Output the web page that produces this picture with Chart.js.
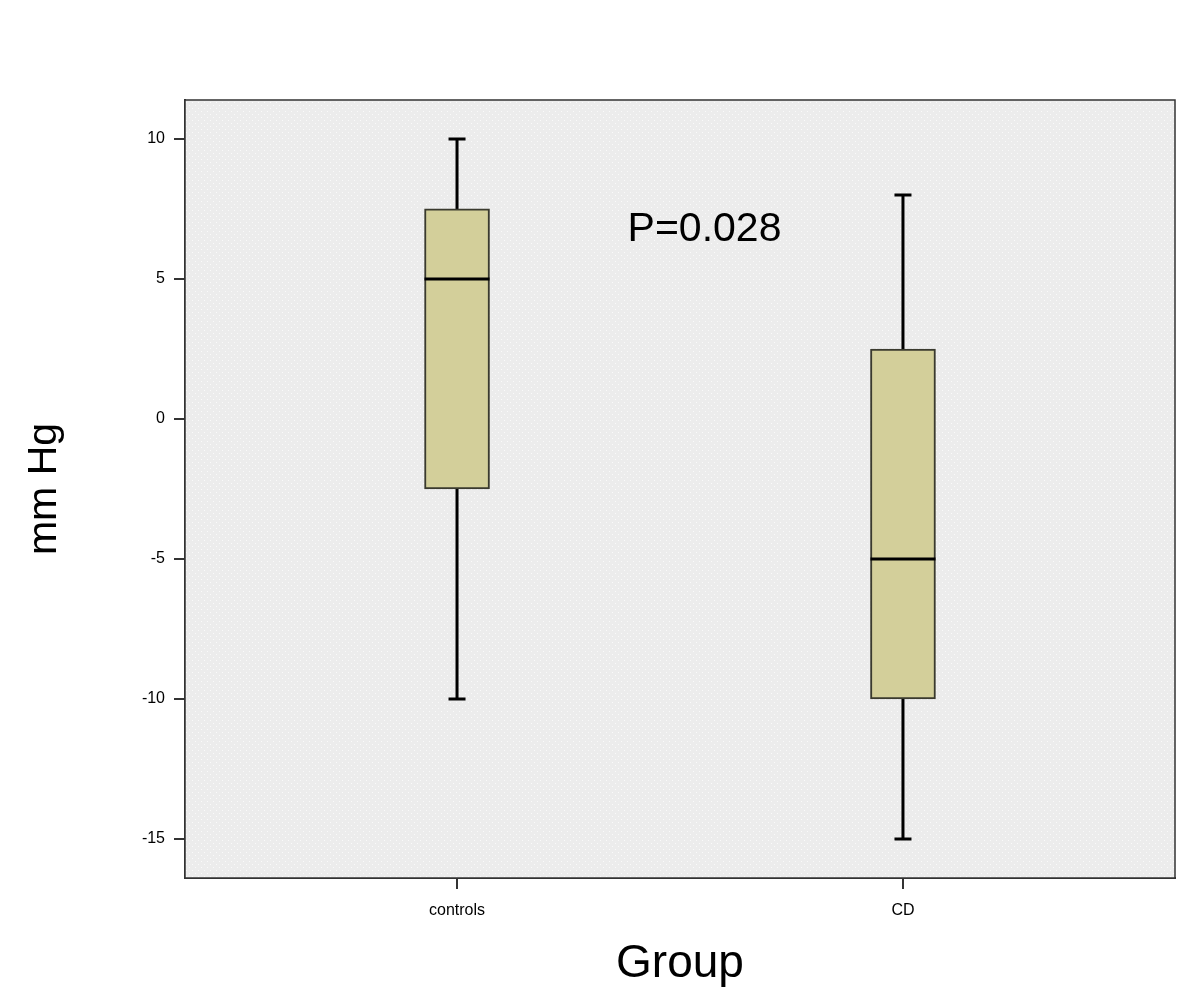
<!DOCTYPE html>
<html>
<head>
<meta charset="utf-8">
<script src="https://cdn.jsdelivr.net/npm/chart.js@4/dist/chart.umd.min.js"></script>
<style>
  html, body { margin: 0; padding: 0; background: #fff; }
  canvas { display: block; }
</style>
</head>
<body>
<canvas id="boxChart" width="1200" height="1000"></canvas>
<script>
/* Boxplot: mm Hg par groupe */

const categories  = ["controls", "CD"];
const whiskerLow  = [-10, -15];
const q1          = [-2.5, -10];
const medians     = [5, -5];
const q3          = [7.5, 2.5];
const whiskerHigh = [10, 8];
const yTicks      = [10, 5, 0, -5, -10, -15];
const pLabel      = "P=0.028";

const FONT = "Arial, 'Liberation Sans', sans-serif";

// motif gris pointillé du fond
function makeDotPattern(ctx) {
  const c = document.createElement("canvas");
  c.width = 6; c.height = 6;
  const p = c.getContext("2d");
  p.fillStyle = "#ececec";
  p.fillRect(0, 0, 6, 6);
  p.fillStyle = "#fafafa";
  p.fillRect(0, 0, 1, 1);
  p.fillRect(3, 3, 1, 1);
  return ctx.createPattern(c, "repeat");
}

const boxPlugin = {
  id: "boxExtras",
  beforeDatasetsDraw(chart) {
    const { ctx, chartArea: a } = chart;
    ctx.save();
    ctx.fillStyle = makeDotPattern(ctx);
    ctx.fillRect(a.left, a.top, a.right - a.left, a.bottom - a.top);
    ctx.restore();

    // moustaches (derrière les boîtes)
    const x = chart.scales.x, y = chart.scales.y;
    ctx.save();
    ctx.strokeStyle = "#000";
    ctx.lineWidth = 3;
    categories.forEach((_, i) => {
      const px = x.getPixelForValue(i + 1);
      ctx.beginPath();
      ctx.moveTo(px, y.getPixelForValue(whiskerLow[i]));
      ctx.lineTo(px, y.getPixelForValue(q1[i]));
      ctx.moveTo(px, y.getPixelForValue(q3[i]));
      ctx.lineTo(px, y.getPixelForValue(whiskerHigh[i]));
      // capuchons
      [whiskerLow[i], whiskerHigh[i]].forEach(v => {
        const py = y.getPixelForValue(v);
        ctx.moveTo(px - 8.5, py);
        ctx.lineTo(px + 8.5, py);
      });
      ctx.stroke();
    });
    ctx.restore();
  },
  afterDatasetsDraw(chart) {
    const { ctx, chartArea: a } = chart;
    const x = chart.scales.x, y = chart.scales.y;
    const meta = chart.getDatasetMeta(0);

    // médianes
    ctx.save();
    ctx.strokeStyle = "#000";
    ctx.lineWidth = 3;
    meta.data.forEach((bar, i) => {
      const half = bar.width / 2;
      const py = y.getPixelForValue(medians[i]);
      ctx.beginPath();
      ctx.moveTo(bar.x - half, py);
      ctx.lineTo(bar.x + half, py);
      ctx.stroke();
    });
    ctx.restore();

    // cadre
    ctx.save();
    ctx.strokeStyle = "#333";
    ctx.lineWidth = 1.5;
    ctx.strokeRect(a.left, a.top, a.right - a.left, a.bottom - a.top);
    ctx.restore();

    // valeur p
    ctx.save();
    ctx.font = "41px " + FONT;
    ctx.fillStyle = "#000";
    ctx.textAlign = "center";
    ctx.textBaseline = "middle";
    ctx.fillText(pLabel, x.getPixelForValue(1.555), y.getPixelForValue(6.75));
    ctx.restore();
  }
};

new Chart(document.getElementById("boxChart"), {
  type: "bar",
  data: {
    datasets: [{
      data: categories.map((c, i) => ({ x: i + 1, y: [q1[i], q3[i]] })),
      backgroundColor: "#d3cf9a",
      borderColor:     "#3a3a2e",
      borderWidth:     2,
      borderSkipped:   false,
      barThickness:    65
    }]
  },
  options: {
    responsive: false,
    animation: false,
    layout: { padding: { top: 100, right: 25, left: 0, bottom: 0 } },
    plugins: {
      legend:  { display: false },
      tooltip: { enabled: false }
    },
    scales: {
      x: {
        type: "linear",
        min: 0.39,
        max: 2.61,
        offset: false,
        afterBuildTicks: axis => { axis.ticks = categories.map((_, i) => ({ value: i + 1 })); },
        afterFit: axis => { axis.height = 122; },
        grid:   { offset: false, drawOnChartArea: false, drawTicks: true, tickLength: 11, color: "#333", lineWidth: 2 },
        border: { display: true, color: "#333", width: 2 },
        ticks: {
          callback: v => categories[v - 1],
          font: { family: FONT, size: 16 },
          color: "#000",
          padding: 12,
          maxRotation: 0
        },
        title: {
          display: true,
          text: "Group",
          font: { family: FONT, size: 46 },
          color: "#000",
          padding: { top: 0, bottom: 8 }
        }
      },
      y: {
        min: -16.39,
        max: 11.39,
        afterBuildTicks: axis => { axis.ticks = yTicks.map(v => ({ value: v })); },
        afterFit: axis => { axis.width = 185; },
        grid:   { drawOnChartArea: false, drawTicks: true, tickLength: 11, color: "#333", lineWidth: 2 },
        border: { display: true, color: "#333", width: 2 },
        ticks: {
          callback: v => String(v),
          font: { family: FONT, size: 16 },
          color: "#000",
          padding: 9
        },
        title: {
          display: true,
          text: "mm Hg",
          font: { family: FONT, size: 41 },
          color: "#000",
          padding: { top: 20, bottom: 0 }
        }
      }
    }
  },
  plugins: [boxPlugin]
});
</script>
</body>
</html>
